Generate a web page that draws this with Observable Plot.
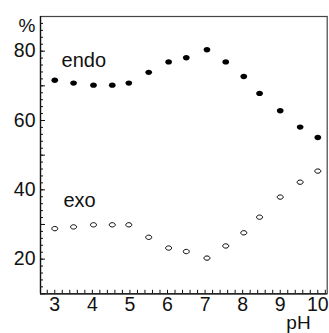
<!DOCTYPE html>
<html>
<head>
<meta charset="utf-8">
<script src="https://cdn.jsdelivr.net/npm/d3@7"></script>
<script src="https://cdn.jsdelivr.net/npm/@observablehq/plot@0.6"></script>
<style>
  html, body { margin: 0; padding: 0; background: #fff; }
  svg { display: block; }
</style>
</head>
<body>
<div id="chart"></div>
<script>
const ph = [3, 3.5, 4.03, 4.53, 4.97, 5.5, 6.03, 6.5, 7.05, 7.55, 8.03, 8.45, 9, 9.53, 10];
const endo = [71.6, 70.8, 70.2, 70.2, 70.8, 73.9, 76.9, 78.1, 80.4, 76.9, 72.7, 67.8, 62.8, 58.1, 55.1];
const exo = [28.8, 29.3, 29.9, 29.9, 29.9, 26.3, 23.2, 22.2, 20.3, 23.8, 27.6, 32.1, 37.9, 42.2, 45.4];
const xTicks = [3, 4, 5, 6, 7, 8, 9, 10];
const yTicks = [20, 40, 60, 80];
const seriesLabels = ["endo", "exo"];

const endoData = ph.map((x, i) => ({x, y: endo[i]}));
const exoData = ph.map((x, i) => ({x, y: exo[i]}));

function ellipse(ax, ay) {
  return {
    draw(ctx, size) {
      const r = Math.sqrt(size / Math.PI);
      const rx = r * ax, ry = r * ay, k = 0.5523;
      ctx.moveTo(rx, 0);
      ctx.bezierCurveTo(rx, ry * k, rx * k, ry, 0, ry);
      ctx.bezierCurveTo(-rx * k, ry, -rx, ry * k, -rx, 0);
      ctx.bezierCurveTo(-rx, -ry * k, -rx * k, -ry, 0, -ry);
      ctx.bezierCurveTo(rx * k, -ry, rx, -ry * k, rx, 0);
      ctx.closePath();
    }
  };
}

const font = "'Liberation Sans', Arial, sans-serif";
const blank = () => "";

const chart = Plot.plot({
  width: 329,
  height: 333,
  marginLeft: 40,
  marginRight: 2.3,
  marginTop: 16,
  marginBottom: 39.7,
  style: {fontFamily: font, background: "#fff", overflow: "visible"},
  x: {domain: [2.62, 10.25], axis: null},
  y: {domain: [10, 90], axis: null},
  marks: [
    Plot.axisX({ticks: d3.range(2.8, 10.21, 0.2), tickSize: -3.5, anchor: "bottom", stroke: "#111", tickFormat: blank, label: null}),
    Plot.axisY({ticks: d3.range(12, 89, 2), tickSize: -3, anchor: "left", stroke: "#111", tickFormat: blank, label: null}),
    Plot.axisY({ticks: d3.range(10, 91, 10), tickSize: -5, anchor: "left", stroke: "#111", tickFormat: blank, label: null}),
    Plot.axisX({ticks: xTicks, tickSize: 0, tickPadding: 3, anchor: "bottom", fontSize: 19.5, fill: "#111", tickFormat: d => String(d), label: null}),
    Plot.axisY({ticks: yTicks, tickSize: 0, tickPadding: 5, anchor: "left", fontSize: 19.5, fill: "#111", tickFormat: d => String(d), label: null}),
    Plot.frame({stroke: "#444", strokeWidth: 1.2}),
    Plot.ruleX([2.62], {stroke: "#111", strokeWidth: 1.3}),
    Plot.ruleY([10], {stroke: "#111", strokeWidth: 1.3}),
    Plot.dot(endoData, {x: "x", y: "y", r: 2.8, symbol: ellipse(1.2, 0.95), fill: "#000", stroke: "none"}),
    Plot.dot(exoData, {x: "x", y: "y", r: 2.4, symbol: ellipse(1.25, 0.9), fill: "none", stroke: "#000", strokeWidth: 1}),
    Plot.text([seriesLabels[0]], {x: [3.18], y: [77.4], text: d => d, textAnchor: "start", lineAnchor: "middle", fontSize: 20, fill: "#111"}),
    Plot.text([seriesLabels[1]], {x: [3.23], y: [36.8], text: d => d, textAnchor: "start", lineAnchor: "middle", fontSize: 20, fill: "#111"}),
    Plot.text(["%"], {frameAnchor: "top-left", textAnchor: "end", lineAnchor: "top", dx: -5, dy: 2.2, fontSize: 19, fill: "#111"}),
    Plot.text(["pH"], {frameAnchor: "bottom-right", textAnchor: "middle", lineAnchor: "bottom", dx: -28.7, dy: 35.5, fontSize: 19, fill: "#111"})
  ]
});

document.getElementById("chart").appendChild(chart);
</script>
</body>
</html>
